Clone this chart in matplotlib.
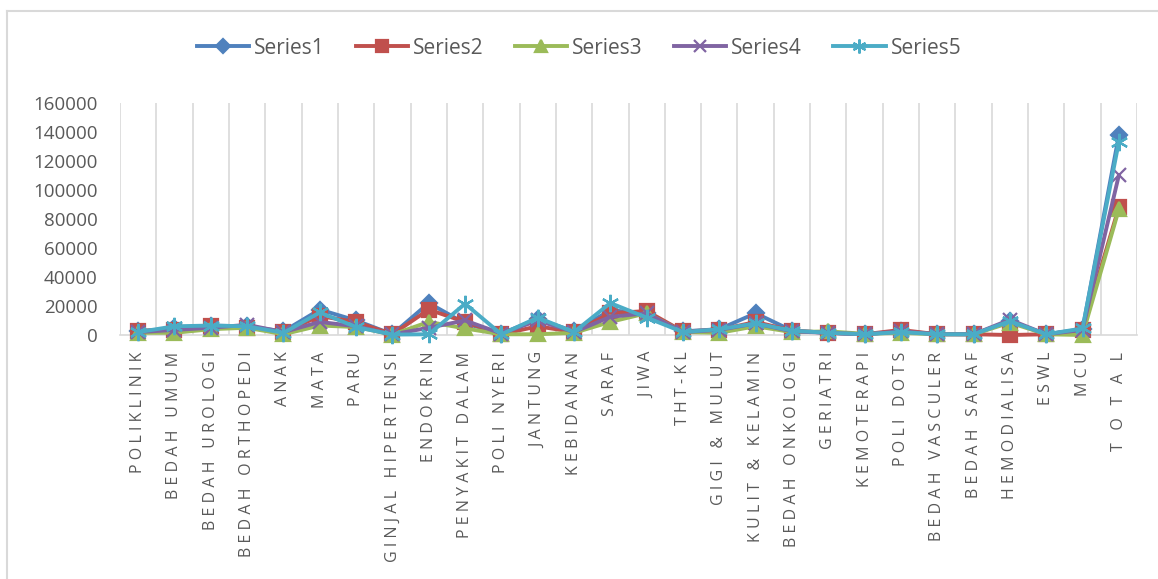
import matplotlib
matplotlib.use("Agg")
import matplotlib.pyplot as plt
from matplotlib.lines import Line2D
import numpy as np

categories = ["POLIKLINIK", "BEDAH UMUM", "BEDAH UROLOGI", "BEDAH ORTHOPEDI", "ANAK",
              "MATA", "PARU", "GINJAL HIPERTENSI", "ENDOKRIN", "PENYAKIT DALAM",
              "POLI NYERI", "JANTUNG", "KEBIDANAN", "SARAF", "JIWA", "THT-KL",
              "GIGI & MULUT", "KULIT & KELAMIN", "BEDAH ONKOLOGI", "GERIATRI",
              "KEMOTERAPI", "POLI DOTS", "BEDAH VASCULER", "BEDAH SARAF",
              "HEMODIALISA", "ESWL", "MCU", "T O T A L"]

series1 = [2500, 4500, 6500, 6000, 2500, 17500, 10000, 500, 22000, 8000,
           1000, 11000, 2500, 17000, 15000, 2500, 4000, 15000, 3000, 1500,
           500, 2500, 700, 500, 9500, 500, 4000, 137500]
series2 = [3000, 3500, 6000, 5000, 2000, 13000, 9000, 500, 17500, 9000,
           500, 6000, 2000, 15000, 16500, 2500, 3500, 9000, 3000, 1500,
           500, 3500, 500, 500, 0, 500, 3500, 88000]
series3 = [1500, 1500, 4000, 5000, 500, 6500, 5500, 300, 9000, 4500,
           500, 500, 1500, 9000, 15000, 2000, 1500, 6000, 2000, 2500,
           800, 1500, 500, 500, 8500, 500, 0, 86500]
series4 = [2000, 3500, 5000, 7000, 2000, 9000, 6000, 400, 5000, 10000,
           1000, 10000, 2000, 12500, 15000, 2000, 3500, 8000, 2500, 1500,
           500, 2500, 500, 500, 10500, 500, 3500, 110000]
series5 = [2000, 6000, 6500, 6000, 1500, 15500, 5500, 300, 500, 21500,
           500, 12000, 2000, 22000, 12000, 2000, 4000, 8000, 3000, 1500,
           500, 2000, 500, 500, 9500, 500, 4500, 133000]

series_names = ["Series1", "Series2", "Series3", "Series4", "Series5"]
colors = ["#4F81BD", "#C0504D", "#9BBB59", "#8064A2", "#4BACC6"]
markers = ["D", "s", "^", "x", (6, 2, 0)]
msizes = [8.5, 10.5, 10.5, 10.5, 12.5]

W, H = 1158, 579
fig = plt.figure(figsize=(W / 100, H / 100), dpi=100)
ax = fig.add_axes([120 / W, 1 - 335 / H, (1137 - 120) / W, (335 - 102.7) / H])

x = np.arange(len(categories))
data = [series1, series2, series3, series4, series5]
for vals, name, c, m, ms in zip(data, series_names, colors, markers, msizes):
    ax.plot(x, vals, color=c, lw=2.8, marker=m, markersize=ms,
            markeredgecolor=c, markerfacecolor=c, markeredgewidth=1.6,
            label=name, clip_on=False, zorder=3)

ax.set_xlim(-0.5, len(categories) - 0.5)
ax.set_ylim(0, 160000)
ax.set_yticks(np.arange(0, 160001, 20000))
ax.yaxis.set_major_formatter(matplotlib.ticker.FuncFormatter(lambda v, p: f"{int(v)}"))

# vertical gridlines at category boundaries
for b in np.arange(-0.5, len(categories) + 0.5, 1):
    ax.axvline(b, color="#D9D9D9", lw=1.2, zorder=1)

for s in ["top", "right", "left"]:
    ax.spines[s].set_visible(False)
ax.spines["bottom"].set_color("#D9D9D9")
ax.spines["bottom"].set_linewidth(1.2)

ax.tick_params(axis="y", length=0, pad=16, labelsize=13.5, labelcolor="#595959")
ax.tick_params(axis="x", length=0, pad=12)
for lab in ax.get_yticklabels():
    lab.set_fontfamily(["Open Sans", "DejaVu Sans"])

def spaced(s):
    return "\u2009\u200A".join(list(s))

ax.set_xticks(x)
ax.set_xticklabels([spaced(c) for c in categories], rotation=90, va="top", ha="center",
                   fontsize=11.5, color="#595959", family=["Open Sans", "DejaVu Sans"])

leg = fig.legend(loc="center", bbox_to_anchor=(0.5, 1 - 48 / H), ncol=5, frameon=False,
                 prop={"family": ["Open Sans", "DejaVu Sans"], "size": 15},
                 handlelength=2.5, columnspacing=1.5, handletextpad=0.25, markerscale=0.8)
for t in leg.get_texts():
    t.set_color("#595959")

# chart border (top and left visible)
fig.add_artist(Line2D([7 / W, 7 / W], [0, 1 - 11 / H], transform=fig.transFigure,
                      color="#D9D9D9", lw=1.5))
fig.add_artist(Line2D([7 / W, 1], [1 - 11 / H, 1 - 11 / H], transform=fig.transFigure,
                      color="#D9D9D9", lw=1.5))

fig.savefig("out.png", dpi=100)
